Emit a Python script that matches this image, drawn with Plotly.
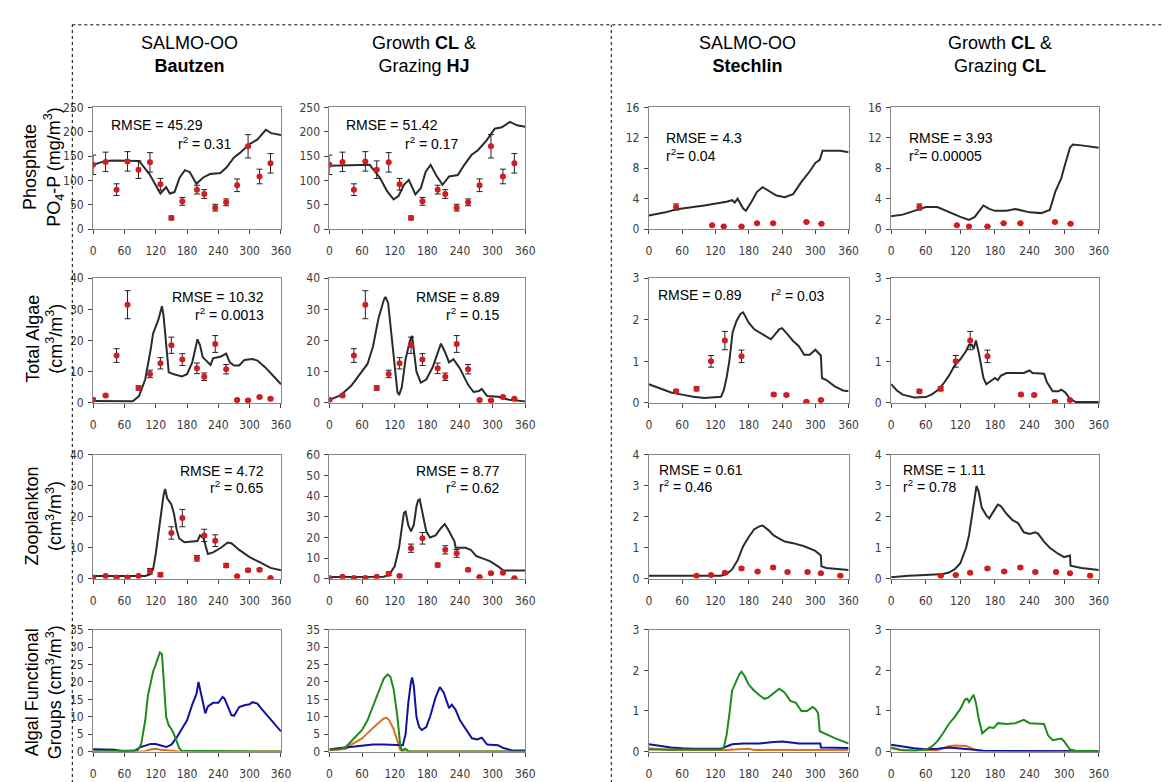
import plotly.graph_objects as go

W, H = 1172, 782

# ---------------- DATA ----------------
x_ticks = [0, 60, 120, 180, 240, 300, 360]

# Bautzen observations (days of year)
bz_obs_days = [0, 24, 45, 66, 87, 109, 129, 150, 171, 199, 213, 234, 255, 276, 297, 319, 340]
bz_po4_obs = [132, 138, 81, 139, 122, 137, 92, 23, 57, 81, 72, 44, 55, 90, 170, 108, 135]
bz_po4_err = [20, 20, 12, 20, 18, 20, 12, 4, 8, 9, 9, 7, 7, 13, 24, 15, 20]
bz_alg_obs = [1.0, 2.4, 15.2, 31.5, 4.8, 9.3, 12.7, 18.5, 13.9, 11.1, 8.4, 18.9, 10.8, 0.9, 0.8, 1.9, 1.3]
bz_alg_err = [0.5, 0.4, 2.2, 4.5, 0.7, 1.2, 1.8, 2.6, 1.9, 1.7, 1.2, 2.7, 1.5, 0.3, 0.3, 0.3, 0.3]
bz_zoo_obs = [0.4, 0.9, 0.4, 0.4, 0.9, 2.4, 1.3, 14.8, 19.6, 6.6, 14.0, 12.3, 4.3, 0.8, 2.7, 2.9, 0.2]
bz_zoo_err = [0.2, 0.2, 0.2, 0.2, 0.2, 0.9, 0.6, 2.0, 2.8, 0.9, 2.0, 1.9, 0.6, 0.2, 0.4, 0.4, 0.1]

# Stechlin observations
st_po4_days = [49, 114, 135, 167, 195, 224, 284, 311]
st_po4_obs = [2.9, 0.5, 0.35, 0.33, 0.78, 0.78, 0.92, 0.7]
st_po4_err = [0.4, 0, 0, 0, 0, 0, 0, 0]
st_alg_days = [49, 86, 112, 137, 167, 225, 248, 284, 310]
st_alg_obs = [0.28, 0.34, 1.0, 1.5, 1.12, 0.2, 0.19, 0.03, 0.07]
st_alg_err = [0.04, 0.05, 0.14, 0.22, 0.15, 0.03, 0.03, 0.02, 0.02]
st_zoo_days = [86, 112, 137, 167, 196, 224, 250, 286, 310, 345]
st_zoo_obs = [0.1, 0.12, 0.19, 0.33, 0.23, 0.36, 0.22, 0.22, 0.18, 0.1]
st_zoo_err = [0.02, 0.02, 0.03, 0.04, 0.03, 0.04, 0.03, 0.03, 0.02, 0.02]

# Model: SALMO-OO Bautzen
m1_po4_d = [0, 24, 40, 88, 108, 129, 140, 147, 156, 166, 176, 185, 198, 211, 224, 244, 256, 270, 282, 299, 315, 331, 341, 360]
m1_po4_v = [132, 140, 141, 140, 113, 73, 86, 73, 76, 106, 121, 117, 93, 106, 113, 115, 127, 147, 157, 174, 184, 204, 197, 193]
m1_alg_d = [0, 40, 76, 88, 100, 110, 115, 125, 130, 132, 135, 140, 145, 155, 170, 180, 190, 200, 205, 210, 220, 225, 230, 245, 255, 262, 270, 280, 290, 305, 315, 330, 345, 360]
m1_alg_v = [0.6, 0.5, 0.5, 2.2, 7.6, 16.8, 22.3, 26.6, 30.4, 31, 28, 17.4, 9.8, 9.2, 8.5, 9.2, 13, 20.4, 18.5, 14.7, 13, 12.2, 14.3, 14.9, 15.8, 13, 12, 12, 13.8, 14.1, 13.6, 11.4, 8.7, 6]
m1_zoo_d = [0, 100, 110, 115, 120, 125, 130, 135, 138, 142, 150, 155, 160, 165, 175, 190, 200, 205, 212, 215, 220, 230, 245, 258, 265, 280, 300, 320, 340, 360]
m1_zoo_v = [0.9, 0.9, 1.5, 3, 8, 15, 22, 27, 29, 26, 24, 21, 16, 13, 11.8, 12, 12.2, 14, 13, 11, 8, 8.5, 10, 11.7, 11.5, 9.3, 7, 5.3, 3.5, 2.7]
m1_grn_d = [0, 85, 92, 100, 105, 110, 115, 120, 125, 128, 132, 135, 140, 145, 150, 155, 160, 165, 170, 360]
m1_grn_v = [0, 0.3, 2, 9, 16, 20, 23, 25, 27.5, 28.5, 28, 22, 10, 7.5, 6.5, 5, 3, 1, 0.2, 0]
m1_org_d = [0, 100, 110, 120, 130, 150, 165, 360]
m1_org_v = [0, 0.1, 0.6, 0.8, 0.5, 0.3, 0, 0]
m1_blu_d = [0, 40, 60, 80, 90, 100, 110, 120, 130, 140, 150, 160, 170, 180, 190, 198, 202, 206, 210, 215, 220, 230, 240, 248, 252, 260, 265, 270, 280, 290, 300, 305, 315, 320, 330, 340, 350, 360]
m1_blu_v = [0.7, 0.5, 0.1, 0.3, 1.2, 1.8, 2.2, 2.2, 1.8, 1.3, 2.0, 4, 6.5, 9, 13.5, 16.5, 20, 17, 14.5, 11, 13, 14, 14, 15.7, 15.2, 12.5, 10.5, 10.3, 12.8, 13.3, 13.6, 14.2, 13.8, 12.8, 11, 9.3, 7.5, 5.8]

# Model: Growth CL & Grazing HJ (Bautzen)
m2_po4_d = [0, 74, 93, 106, 118, 127, 137, 146, 158, 168, 177, 186, 196, 208, 220, 236, 248, 261, 273, 289, 304, 317, 332, 345, 360]
m2_po4_v = [130, 132, 105, 78, 61, 68, 91, 101, 71, 84, 118, 132, 111, 91, 108, 111, 132, 152, 162, 182, 206, 209, 220, 213, 210]
m2_alg_d = [0, 20, 40, 55, 70, 80, 90, 100, 103, 108, 115, 120, 125, 128, 133, 140, 148, 152, 155, 160, 168, 178, 190, 200, 205, 212, 220, 228, 240, 255, 265, 275, 280, 290, 310, 330, 360]
m2_alg_v = [1.0, 2.4, 5.5, 9, 12.5, 18, 27, 33, 34, 32, 20, 10, 3.5, 2.5, 5, 14, 20, 21.5, 17, 10, 6.5, 7.5, 11.5, 17, 19, 16.5, 13, 14, 11, 5.8, 3.5, 3.8, 4.5, 2.2, 2.0, 1.0, 0.5]
m2_zoo_d = [0, 100, 110, 120, 128, 133, 137, 140, 145, 150, 155, 160, 163, 166, 172, 178, 185, 195, 205, 212, 218, 225, 230, 232, 250, 260, 270, 280, 295, 310, 320, 360]
m2_zoo_v = [0.8, 1, 2, 6, 15, 25, 32, 32.5, 26, 23, 26, 35, 38, 38.5, 30, 23, 20, 21, 24.5, 26.5, 24, 20, 18, 15, 15, 14, 11, 10, 8.5, 6, 4, 4]
m2_grn_d = [0, 20, 30, 40, 50, 60, 70, 80, 90, 100, 107, 112, 118, 125, 130, 133, 140, 145, 150, 360]
m2_grn_v = [0.5, 0.7, 1.3, 3, 4.8, 6.2, 9, 13, 17, 21, 22.2, 21.5, 18, 10, 2, 0.3, 0.8, 0.1, 0, 0]
m2_org_d = [0, 30, 40, 50, 60, 70, 80, 90, 100, 105, 110, 118, 125, 130, 135, 360]
m2_org_v = [0.3, 0.8, 2, 3, 3.8, 5.3, 6.8, 8.2, 9.5, 9.7, 9, 6.5, 3, 0.5, 0, 0]
m2_blu_d = [0, 20, 40, 60, 80, 100, 120, 135, 140, 145, 150, 152, 155, 160, 165, 170, 178, 185, 195, 203, 210, 220, 225, 232, 240, 250, 262, 272, 280, 290, 310, 320, 335, 360]
m2_blu_v = [0.7, 1, 1.5, 1.8, 2.0, 2.0, 1.8, 1.8, 5, 14, 20, 21.3, 19, 10, 7, 6.2, 7, 10, 15.5, 18.5, 17, 12.5, 13.5, 12, 9, 6.5, 3.8, 3.5, 4, 2, 1.8, 1, 0.4, 0.3]

# Model: SALMO-OO Stechlin
m3_po4_d = [0, 30, 50, 100, 140, 150, 155, 160, 170, 175, 185, 195, 205, 215, 230, 245, 260, 275, 290, 300, 308, 313, 345, 360]
m3_po4_v = [1.8, 2.2, 2.6, 3.1, 3.6, 3.8, 3.5, 4.0, 2.7, 2.4, 3.6, 4.9, 5.5, 5.1, 4.4, 4.2, 4.6, 6.2, 7.6, 8.7, 9.1, 10.3, 10.3, 10.1]
m3_alg_d = [0, 20, 40, 60, 80, 100, 130, 135, 140, 145, 151, 158, 165, 170, 180, 190, 210, 220, 235, 240, 250, 260, 270, 280, 290, 300, 310, 312, 320, 335, 350, 360]
m3_alg_v = [0.45, 0.35, 0.25, 0.2, 0.15, 0.12, 0.15, 0.3, 0.6, 1.0, 1.7, 1.97, 2.14, 2.18, 1.93, 1.77, 1.6, 1.53, 1.77, 1.8, 1.65, 1.49, 1.37, 1.16, 1.16, 1.28, 1.14, 0.6, 0.55, 0.4, 0.3, 0.28]
m3_zoo_d = [0, 130, 140, 150, 160, 170, 180, 190, 200, 205, 215, 225, 235, 245, 260, 280, 300, 310, 311, 320, 335, 360]
m3_zoo_v = [0.1, 0.1, 0.15, 0.3, 0.6, 1.05, 1.35, 1.6, 1.7, 1.72, 1.58, 1.4, 1.3, 1.2, 1.15, 1.05, 0.9, 0.75, 0.4, 0.35, 0.32, 0.28]
m3_grn_d = [0, 130, 135, 140, 145, 150, 158, 163, 167, 173, 180, 190, 200, 208, 215, 225, 235, 245, 255, 265, 275, 285, 295, 300, 305, 308, 320, 335, 350, 360]
m3_grn_v = [0.05, 0.05, 0.1, 0.4, 0.9, 1.5, 1.75, 1.9, 1.97, 1.85, 1.65, 1.5, 1.38, 1.3, 1.33, 1.43, 1.55, 1.45, 1.25, 1.2, 1.0, 1.0, 1.1, 1.05, 0.95, 0.5, 0.42, 0.33, 0.25, 0.2]
m3_org_d = [0, 20, 40, 130, 160, 180, 190, 360]
m3_org_v = [0.08, 0.05, 0.03, 0.03, 0.06, 0.07, 0.04, 0.04]
m3_blu_d = [0, 20, 40, 60, 80, 130, 140, 150, 170, 200, 220, 240, 260, 270, 309, 310, 360]
m3_blu_v = [0.18, 0.14, 0.1, 0.08, 0.07, 0.07, 0.12, 0.18, 0.2, 0.2, 0.23, 0.25, 0.22, 0.2, 0.2, 0.1, 0.09]

# Model: Growth CL & Grazing CL (Stechlin)
m4_po4_d = [0, 20, 40, 60, 80, 100, 120, 135, 145, 160, 170, 180, 200, 215, 240, 260, 275, 285, 295, 300, 310, 315, 330, 360]
m4_po4_v = [1.7, 1.9, 2.4, 2.9, 2.9, 2.2, 1.6, 1.2, 1.6, 3.1, 2.65, 2.4, 2.4, 2.65, 2.2, 2.1, 2.5, 5.0, 6.7, 8.1, 10.7, 11.1, 11.0, 10.7]
m4_alg_d = [0, 10, 20, 40, 60, 70, 80, 90, 100, 110, 120, 130, 135, 140, 143, 147, 152, 160, 165, 170, 180, 185, 190, 200, 230, 240, 245, 265, 270, 280, 290, 295, 302, 310, 320, 360]
m4_alg_v = [0.45, 0.3, 0.2, 0.13, 0.14, 0.2, 0.3, 0.45, 0.65, 0.9, 1.05, 1.25, 1.4, 1.4, 1.3, 1.5, 1.2, 0.6, 0.45, 0.5, 0.6, 0.55, 0.65, 0.72, 0.72, 0.78, 0.72, 0.7, 0.5, 0.28, 0.28, 0.32, 0.25, 0.1, 0.02, 0.02]
m4_zoo_d = [0, 30, 60, 90, 100, 110, 120, 130, 135, 140, 145, 148, 152, 157, 165, 170, 180, 185, 190, 200, 210, 220, 230, 240, 250, 255, 265, 275, 290, 300, 310, 311, 330, 360]
m4_zoo_v = [0.05, 0.1, 0.12, 0.15, 0.2, 0.3, 0.5, 1.0, 1.4, 2.0, 2.6, 3.0, 2.8, 2.3, 2.05, 1.95, 2.25, 2.4, 2.35, 2.1, 1.9, 1.8, 1.5, 1.45, 1.5, 1.45, 1.2, 1.0, 0.8, 0.7, 0.75, 0.42, 0.35, 0.28]
m4_grn_d = [0, 20, 40, 60, 70, 80, 90, 100, 110, 120, 128, 132, 135, 140, 143, 147, 152, 158, 165, 170, 178, 185, 200, 215, 230, 240, 265, 272, 280, 290, 295, 300, 305, 310, 320, 360]
m4_grn_v = [0.1, 0.03, 0.02, 0.05, 0.12, 0.25, 0.45, 0.68, 0.85, 1.05, 1.28, 1.3, 1.22, 1.35, 1.4, 1.2, 0.8, 0.45, 0.55, 0.6, 0.58, 0.7, 0.68, 0.7, 0.78, 0.7, 0.68, 0.4, 0.28, 0.3, 0.32, 0.25, 0.15, 0.05, 0.02, 0.01]
m4_org_d = [0, 20, 80, 90, 100, 110, 120, 130, 140, 150, 360]
m4_org_v = [0.08, 0.03, 0.03, 0.08, 0.13, 0.15, 0.15, 0.14, 0.08, 0.02, 0]
m4_blu_d = [0, 20, 40, 60, 80, 100, 120, 140, 160, 360]
m4_blu_v = [0.17, 0.12, 0.08, 0.06, 0.07, 0.1, 0.08, 0.05, 0.02, 0.01]

# axis ranges / ticks per row & column
y_ranges = [
    [[0, 250], [0, 250], [0, 16], [0, 16]],
    [[0, 40], [0, 40], [0, 3], [0, 3]],
    [[0, 40], [0, 60], [0, 4], [0, 4]],
    [[0, 35], [0, 35], [0, 3], [0, 3]],
]
y_dticks = [
    [50, 50, 4, 4],
    [10, 10, 1, 1],
    [10, 10, 1, 1],
    [5, 5, 1, 1],
]

col_titles = ["SALMO-OO<br><b>Bautzen</b>", "Growth <b>CL</b> &<br>Grazing <b>HJ</b>",
              "SALMO-OO<br><b>Stechlin</b>", "Growth <b>CL</b> &<br>Grazing <b>CL</b>"]
row_titles = ["Phosphate<br>PO<sub>4</sub>-P (mg/m<sup>3</sup>)", "Total Algae<br>(cm<sup>3</sup>/m<sup>3</sup>)",
              "Zooplankton<br>(cm<sup>3</sup>/m<sup>3</sup>)", "Algal Functional<br>Groups (cm<sup>3</sup>/m<sup>3</sup>)"]

# ---------------- LAYOUT (pixels) ----------------
col_px = [(83, 273), (322, 520), (645, 847), (890, 1100)]
row_px = [(94, 218), (268, 395), (448, 574), (626, 750)]

fig = go.Figure()

TICKFONT = dict(family="Liberation Sans Narrow, Arial Narrow, DejaVu Sans Condensed, sans-serif", size=12, color="#3a3a3a")
TXTFONT = dict(family="Liberation Sans, Arial, sans-serif", size=14, color="#000")

def ax_name(r, c):
    i = r * 4 + c + 1
    return ("x" if i == 1 else f"x{i}"), ("y" if i == 1 else f"y{i}"), i

layout_axes = {}
for r in range(4):
    for c in range(4):
        xn, yn, i = ax_name(r, c)
        x0, x1 = col_px[c]
        t, b = row_px[r]
        xkey = "xaxis" if i == 1 else f"xaxis{i}"
        ykey = "yaxis" if i == 1 else f"yaxis{i}"
        layout_axes[xkey] = dict(domain=[x0 / W, x1 / W], anchor=yn, range=[0, 360],
                                 tickvals=x_ticks, showgrid=False, zeroline=False,
                                 showline=True, linecolor="#888", linewidth=1, mirror=True,
                                 ticks="outside", ticklen=4, tickcolor="#444", tickfont=TICKFONT,
                                 ticklabelstandoff=7)
        layout_axes[ykey] = dict(domain=[1 - b / H, 1 - t / H], anchor=xn, range=y_ranges[r][c],
                                 dtick=y_dticks[r][c], tick0=0, showgrid=False, zeroline=False,
                                 showline=True, linecolor="#888", linewidth=1, mirror=True,
                                 ticks="outside", ticklen=4, tickcolor="#444", tickfont=TICKFONT,
                                 ticklabelstandoff=2)

GREEN = "#1e8a1e"
BLUE = "#12129e"
ORANGE = "#e0701e"

def add_line(r, c, xs, ys, color="#2b2b2b", width=2):
    xn, yn, _ = ax_name(r, c)
    fig.add_trace(go.Scatter(x=xs, y=ys, mode="lines", line=dict(color=color, width=width),
                             xaxis=xn, yaxis=yn, showlegend=False, hoverinfo="skip"))

def add_obs(r, c, xs, ys, err):
    xn, yn, _ = ax_name(r, c)
    fig.add_trace(go.Scatter(x=xs, y=ys, mode="markers",
                             marker=dict(color="#d41c1c", size=6),
                             error_y=dict(type="data", array=err, color="#222", thickness=1, width=3),
                             xaxis=xn, yaxis=yn, showlegend=False, hoverinfo="skip"))

models = [
    (m1_po4_d, m1_po4_v, m1_alg_d, m1_alg_v, m1_zoo_d, m1_zoo_v, m1_grn_d, m1_grn_v, m1_org_d, m1_org_v, m1_blu_d, m1_blu_v),
    (m2_po4_d, m2_po4_v, m2_alg_d, m2_alg_v, m2_zoo_d, m2_zoo_v, m2_grn_d, m2_grn_v, m2_org_d, m2_org_v, m2_blu_d, m2_blu_v),
    (m3_po4_d, m3_po4_v, m3_alg_d, m3_alg_v, m3_zoo_d, m3_zoo_v, m3_grn_d, m3_grn_v, m3_org_d, m3_org_v, m3_blu_d, m3_blu_v),
    (m4_po4_d, m4_po4_v, m4_alg_d, m4_alg_v, m4_zoo_d, m4_zoo_v, m4_grn_d, m4_grn_v, m4_org_d, m4_org_v, m4_blu_d, m4_blu_v),
]
obs_sets = [
    [(bz_obs_days, bz_po4_obs, bz_po4_err), (bz_obs_days, bz_alg_obs, bz_alg_err), (bz_obs_days, bz_zoo_obs, bz_zoo_err)],
    [(bz_obs_days, bz_po4_obs, bz_po4_err), (bz_obs_days, bz_alg_obs, bz_alg_err), (bz_obs_days, bz_zoo_obs, bz_zoo_err)],
    [(st_po4_days, st_po4_obs, st_po4_err), (st_alg_days, st_alg_obs, st_alg_err), (st_zoo_days, st_zoo_obs, st_zoo_err)],
    [(st_po4_days, st_po4_obs, st_po4_err), (st_alg_days, st_alg_obs, st_alg_err), (st_zoo_days, st_zoo_obs, st_zoo_err)],
]

for c in range(4):
    m = models[c]
    for r in range(3):
        add_line(r, c, m[2 * r], m[2 * r + 1])
        d, v, e = obs_sets[c][r]
        add_obs(r, c, d, v, e)
    add_line(3, c, m[8], m[9], ORANGE, 2)
    add_line(3, c, m[10], m[11], BLUE, 2)
    add_line(3, c, m[6], m[7], GREEN, 2)

annotations = []
col_centers = [180, 418, 745, 1000]
for c in range(4):
    annotations.append(dict(x=col_centers[c] / W, y=1 - 40 / H, xref="paper", yref="paper",
                            text=col_titles[c], showarrow=False, xanchor="center", yanchor="middle",
                            font=dict(family="Liberation Sans, Arial, sans-serif", size=18, color="#000")))
row_centers = [155, 330, 510, 690]
for r in range(4):
    annotations.append(dict(x=33 / W, y=1 - row_centers[r] / H, xref="paper", yref="paper",
                            text=row_titles[r], showarrow=False, textangle=-90,
                            xanchor="center", yanchor="middle",
                            font=dict(family="Liberation Sans, Arial, sans-serif", size=18, color="#000")))

stats = [
    (99, 112, "RMSE = 45.29", "left"), (225, 130, "r<sup>2</sup> = 0.31", "right"),
    (337, 112, "RMSE = 51.42", "left"), (455, 130, "r<sup>2</sup> = 0.17", "right"),
    (660, 125, "RMSE = 4.3", "left"), (660, 143, "r<sup>2</sup>= 0.04", "left"),
    (906, 125, "RMSE = 3.93", "left"), (906, 143, "r<sup>2</sup>= 0.00005", "left"),
    (258, 287, "RMSE = 10.32", "right"), (258, 304, "r<sup>2</sup> = 0.0013", "right"),
    (497, 287, "RMSE = 8.89", "right"), (497, 304, "r<sup>2</sup> = 0.15", "right"),
    (652, 285, "RMSE = 0.89", "left"), (825, 285, "r<sup>2</sup> = 0.03", "right"),
    (258, 464, "RMSE = 4.72", "right"), (258, 481, "r<sup>2</sup> = 0.65", "right"),
    (497, 464, "RMSE = 8.77", "right"), (497, 481, "r<sup>2</sup> = 0.62", "right"),
    (653, 463, "RMSE = 0.61", "left"), (653, 480, "r<sup>2</sup> = 0.46", "left"),
    (900, 463, "RMSE = 1.11", "left"), (900, 480, "r<sup>2</sup> = 0.78", "left"),
]
for (px, py, txt, anc) in stats:
    annotations.append(dict(x=px / W, y=1 - py / H, xref="paper", yref="paper", text=txt,
                            showarrow=False, xanchor=anc, yanchor="middle", font=TXTFONT))

shapes = [
    dict(type="line", xref="paper", yref="paper", x0=62 / W, x1=62 / W, y0=0, y1=1 - 10 / H,
         line=dict(color="#000", width=1, dash="dot")),
    dict(type="line", xref="paper", yref="paper", x0=607 / W, x1=607 / W, y0=0, y1=1 - 10 / H,
         line=dict(color="#000", width=1, dash="dot")),
    dict(type="line", xref="paper", yref="paper", x0=62 / W, x1=1, y0=1 - 10 / H, y1=1 - 10 / H,
         line=dict(color="#000", width=1, dash="dot")),
]

fig.update_layout(width=W, height=H, margin=dict(l=0, r=0, t=0, b=0),
                  paper_bgcolor="white", plot_bgcolor="white", showlegend=False,
                  annotations=annotations, shapes=shapes, **layout_axes)

fig.write_html("out.html")
